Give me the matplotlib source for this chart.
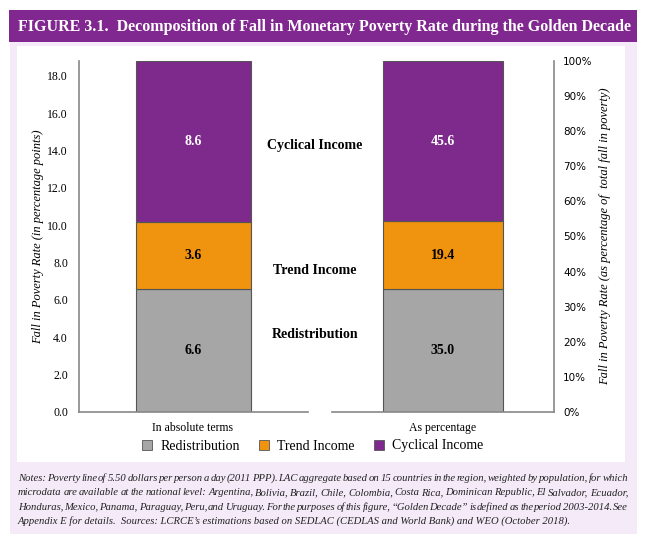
import matplotlib
matplotlib.use("Agg")
import matplotlib.pyplot as plt
from matplotlib.patches import Rectangle, Patch

# ---- data ----
categories = ["In absolute terms", "As percentage"]
components = ["Redistribution", "Trend Income", "Cyclical Income"]
absolute_vals = [6.6, 3.6, 8.6]
percent_vals = [35.0, 19.4, 45.6]
left_ticks = [0, 2, 4, 6, 8, 10, 12, 14, 16, 18]
right_ticks = [0, 10, 20, 30, 40, 50, 60, 70, 80, 90, 100]
colors = ["#a6a6a6", "#f0930f", "#7e2a8d"]
label_colors = ["black", "black", "white"]

title = "FIGURE 3.1.  Decomposition of Fall in Monetary Poverty Rate during the Golden Decade"
notes = [
    "Notes: Poverty line of 5.50 dollars per person a day (2011 PPP).  LAC aggregate based on 15 countries in the region, weighted by population, for which",
    "microdata are available at the national level: Argentina, Bolivia, Brazil, Chile, Colombia, Costa Rica, Dominican Republic, El Salvador, Ecuador,",
    "Honduras, Mexico, Panama, Paraguay, Peru, and Uruguay.  For the purposes of this figure, \u201cGolden Decade\u201d is defined as the period 2003-2014.  See",
    "Appendix E for details.  Sources: LCRCE\u2019s estimations based on SEDLAC (CEDLAS and World Bank) and WEO (October 2018).",
]

W, H = 645, 534
fig = plt.figure(figsize=(W / 100, H / 100), dpi=100)
fig.patch.set_facecolor("white")

def px(x0, y0, x1, y1):
    return (x0 / W, 1 - y1 / H, (x1 - x0) / W, (y1 - y0) / H)

def fx(x):
    return x / W

def fy(y):
    return 1 - y / H

serif = "Liberation Serif"

# backgrounds
bg = fig.add_axes([0, 0, 1, 1], zorder=-10)
bg.set_xlim(0, W); bg.set_ylim(H, 0); bg.axis("off")
bg.add_patch(Rectangle((10, 10), 627, 524, facecolor="#f4eaf8", edgecolor="none"))
bg.add_patch(Rectangle((17, 46), 608, 416, facecolor="white", edgecolor="none"))
bg.add_patch(Rectangle((9, 10), 628, 32, facecolor="#80288f", edgecolor="none"))
bg.text(324, 27, title, color="white", fontsize=11.5, fontweight="bold",
        family=serif, ha="center", va="center")

# notes, justified for all but the last line
renderer = fig.canvas.get_renderer()
note_kw = dict(fontsize=7.7, style="italic", family=serif, va="baseline", color="#222222")
x_left, x_right = 18, 628
for i, line in enumerate(notes):
    y = 481 + i * 14.3
    if i == len(notes) - 1:
        bg.text(x_left, y, line, ha="left", **note_kw)
        continue
    words = line.split()
    widths = []
    tmp = []
    for w in words:
        t = fig.text(0, 0, w, **note_kw)
        bb = t.get_window_extent(renderer=renderer)
        widths.append(bb.width)
        tmp.append(t)
    for t in tmp:
        t.remove()
    gap = (x_right - x_left - sum(widths)) / (len(words) - 1)
    x = x_left
    for w, wd in zip(words, widths):
        bg.text(x, y, w, ha="left", **note_kw)
        x += wd + gap

axL = fig.add_axes(px(79, 61, 308, 412))
axR = fig.add_axes(px(332, 61, 554, 412))

spine_col = "#888888"
for ax, vals, lim, bw in [(axL, absolute_vals, 18.8, 0.502), (axR, percent_vals, 100, 0.54)]:
    ax.patch.set_visible(False)
    bottom = 0
    for v, c, lc in zip(vals, colors, label_colors):
        ax.bar([0.5], [v], bottom=bottom, width=bw, color=c, edgecolor="#555555", linewidth=0.8)
        ax.text(0.5, bottom + v / 2, f"{v:.1f}", ha="center", va="center",
                fontsize=10, fontweight="bold", family=serif, color=lc)
        bottom += v
    ax.set_xlim(0, 1)
    ax.set_ylim(0, lim)
    ax.set_xticks([])
    for s in ax.spines.values():
        s.set_visible(False)
    ax.spines["bottom"].set_visible(True)
    ax.spines["bottom"].set_color(spine_col)
    ax.spines["bottom"].set_linewidth(1.2)

axL.spines["left"].set_visible(True)
axL.spines["left"].set_color(spine_col)
axL.spines["left"].set_linewidth(1.2)
axL.set_yticks(left_ticks)
axL.set_yticklabels([f"{t:.1f}" for t in left_ticks], family=serif, fontsize=8.5)
axL.tick_params(axis="y", length=0, pad=8)
axL.set_ylabel("Fall in Poverty Rate (in percentage points)", family=serif,
               style="italic", fontsize=9, labelpad=2)

axR.spines["right"].set_visible(True)
axR.spines["right"].set_color(spine_col)
axR.spines["right"].set_linewidth(1.2)
axR.yaxis.tick_right()
axR.yaxis.set_label_position("right")
axR.set_yticks(right_ticks)
axR.set_yticklabels([f"{t}%" for t in right_ticks], family="DejaVu Sans", fontsize=7.5)
axR.tick_params(axis="y", length=0, pad=6.5)
axR.set_ylabel("Fall in Poverty Rate (as percentage of  total fall in poverty)", family=serif,
               style="italic", fontsize=9, labelpad=5)

# category labels
fig.text(fx(193), fy(428), categories[0], family=serif, fontsize=8.5, ha="center", va="center")
fig.text(fx(443), fy(428), categories[1], family=serif, fontsize=8.5, ha="center", va="center")

# component labels in the middle
mids = [335, 270, 145]
for name, y in zip(components, mids):
    fig.text(fx(315), fy(y), name, family=serif, fontsize=10, fontweight="bold",
             ha="center", va="center", zorder=5)

handles = [Patch(facecolor=c, edgecolor="#555555", linewidth=0.6, label=n) for c, n in zip(colors, components)]
leg = fig.legend(handles=handles, loc="center", bbox_to_anchor=(fx(313), fy(446)), ncol=3,
                 frameon=False, prop={"family": serif, "size": 10}, handlelength=0.7,
                 handleheight=0.7, handletextpad=0.6, columnspacing=1.4)

fig.savefig("out.png", dpi=100)
